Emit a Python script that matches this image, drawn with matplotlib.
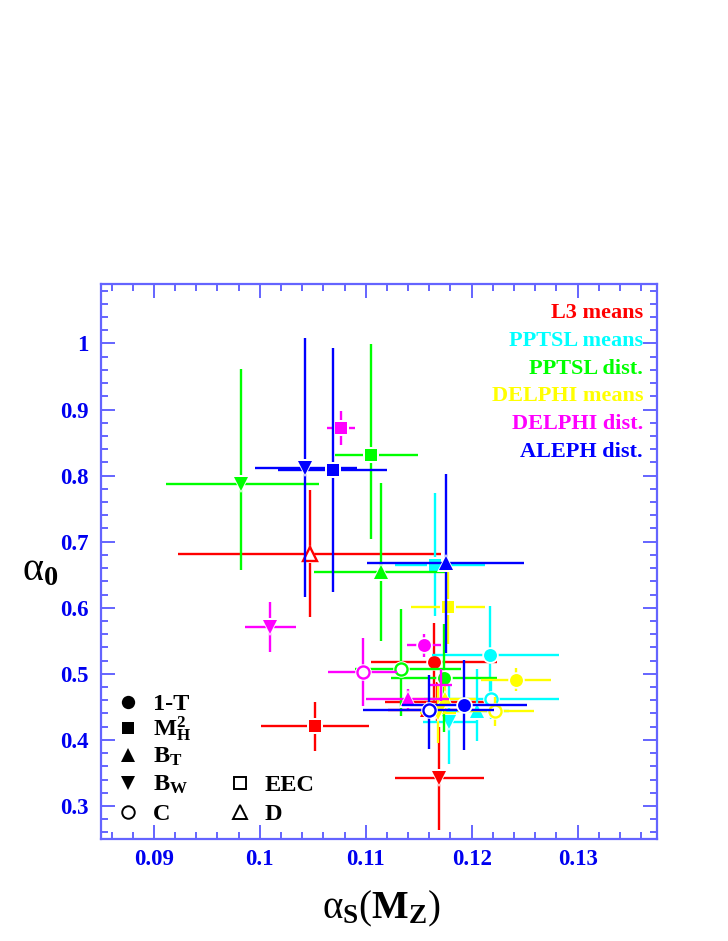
import matplotlib
matplotlib.use('Agg')
import matplotlib.pyplot as plt
from matplotlib.ticker import MultipleLocator, FuncFormatter
import numpy as np

plt.rcParams['font.family'] = ['Liberation Serif', 'DejaVu Serif']
plt.rcParams['mathtext.fontset'] = 'custom'
plt.rcParams['mathtext.rm'] = 'Liberation Serif'
plt.rcParams['mathtext.it'] = 'Liberation Serif'
plt.rcParams['mathtext.bf'] = 'Liberation Serif:bold'

# ---------------- data (alpha_s, alpha_0 with asymmetric errors) ----------------
# L3 means (red)
l3_var = ['1-T', 'MH2', 'BT', '', 'BW', 'D']
l3_x   = [0.11642, 0.10519, 0.1158, 0.1167, 0.11695, 0.10469]
l3_y   = [0.5181, 0.4209, 0.4450, 0.4571, 0.3418, 0.6817]
l3_xlo = [0.0059, 0.0051, 0.0037, 0.0049, 0.0042, 0.0124]
l3_xhi = [0.0060, 0.0051, 0.0044, 0.0049, 0.0042, 0.0124]
l3_ylo = [0.059, 0.037, 0.012, 0.030, 0.078, 0.096]
l3_yhi = [0.059, 0.037, 0.012, 0.030, 0.078, 0.096]

# PPTSL means (cyan)
pm_var = ['1-T', 'MH2', 'BT', 'BW', 'C']
pm_x   = [0.12176, 0.11655, 0.12051, 0.11790, 0.12186]
pm_y   = [0.5280, 0.6640, 0.4430, 0.4269, 0.4622]
pm_xlo = [0.0055, 0.0038, 0.0030, 0.0025, 0.0064]
pm_xhi = [0.0065, 0.0047, 0.0030, 0.0025, 0.0064]
pm_ylo = [0.074, 0.077, 0.044, 0.064, 0.030]
pm_yhi = [0.074, 0.109, 0.065, 0.064, 0.030]

# PPTSL dist. (green)
pd_var = ['1-T', 'MH2', 'BT', 'BW', 'C']
pd_x   = [0.11736, 0.11054, 0.11145, 0.09825, 0.11337]
pd_y   = [0.4940, 0.8308, 0.6540, 0.7870, 0.5076]
pd_xlo = [0.0050, 0.0034, 0.0063, 0.0071, 0.0044]
pd_xhi = [0.0050, 0.0044, 0.0060, 0.0073, 0.0056]
pd_ylo = [0.082, 0.126, 0.104, 0.130, 0.072]
pd_yhi = [0.082, 0.169, 0.135, 0.174, 0.090]

# DELPHI means (yellow)
dm_var = ['1-T', 'MH2', 'BW', 'BT', 'C']
dm_x   = [0.12415, 0.11774, 0.1168, 0.11745, 0.12224]
dm_y   = [0.4914, 0.6012, 0.4400, 0.4612, 0.4435]
dm_xlo = [0.0033, 0.0035, 0.0017, 0.0030, 0.0036]
dm_xhi = [0.0033, 0.0035, 0.0017, 0.0030, 0.0036]
dm_ylo = [0.018, 0.056, 0.045, 0.020, 0.022]
dm_yhi = [0.018, 0.056, 0.045, 0.020, 0.022]

# DELPHI dist. (magenta)
dd_var = ['1-T', 'MH2', 'BT', 'BW', 'C', '']
dd_x   = [0.11547, 0.10768, 0.11396, 0.10098, 0.10975, 0.1171]
dd_y   = [0.5432, 0.8720, 0.4622, 0.5710, 0.5030, 0.4830]
dd_xlo = [0.0016, 0.0013, 0.0039, 0.0024, 0.0033, 0.0010]
dd_xhi = [0.0016, 0.0013, 0.0039, 0.0024, 0.0032, 0.0010]
dd_ylo = [0.017, 0.026, 0.015, 0.038, 0.051, 0.024]
dd_yhi = [0.017, 0.026, 0.015, 0.038, 0.051, 0.024]

# ALEPH dist. (blue)
al_var = ['1-T', 'MH2', 'BT', 'BW', 'C']
al_x   = [0.11928, 0.10686, 0.11755, 0.10430, 0.11598]
al_y   = [0.4526, 0.8086, 0.6670, 0.8120, 0.4446]
al_xlo = [0.0059, 0.0051, 0.0074, 0.0048, 0.0062]
al_xhi = [0.0059, 0.0051, 0.0074, 0.0049, 0.0061]
al_ylo = [0.068, 0.185, 0.136, 0.196, 0.058]
al_yhi = [0.068, 0.185, 0.136, 0.196, 0.054]

group_names = ['L3 means', 'PPTSL means', 'PPTSL dist.', 'DELPHI means', 'DELPHI dist.', 'ALEPH dist.']
group_colors = ['#ff0000', '#00ffff', '#00ff00', '#ffff00', '#ff00ff', '#0000ff']
groups = [
    (l3_x, l3_y, l3_xlo, l3_xhi, l3_ylo, l3_yhi, l3_var),
    (pm_x, pm_y, pm_xlo, pm_xhi, pm_ylo, pm_yhi, pm_var),
    (pd_x, pd_y, pd_xlo, pd_xhi, pd_ylo, pd_yhi, pd_var),
    (dm_x, dm_y, dm_xlo, dm_xhi, dm_ylo, dm_yhi, dm_var),
    (dd_x, dd_y, dd_xlo, dd_xhi, dd_ylo, dd_yhi, dd_var),
    (al_x, al_y, al_xlo, al_xhi, al_ylo, al_yhi, al_var),
]

legend_vars = ['1-T', 'MH2', 'BT', 'BW', 'C', 'EEC', 'D']
legend_labels = ['1-T', r'$\mathbf{M}_{\mathbf{H}}^{\mathbf{2}}$', r'$\mathbf{B}_{\mathbf{T}}$',
                 r'$\mathbf{B}_{\mathbf{W}}$', 'C', 'EEC', 'D']

x_ticks = [0.09, 0.10, 0.11, 0.12, 0.13]
y_ticks = [0.3, 0.4, 0.5, 0.6, 0.7, 0.8, 0.9, 1.0]

# ---------------- styles ----------------
MARK = {'1-T': ('o', True), 'MH2': ('s', True), 'BT': ('^', True), 'BW': ('v', True),
        'C': ('o', False), 'D': ('^', False), 'EEC': ('s', False)}
SIZE = {'o': 9.3, 's': 8.8, '^': 10.0, 'v': 10.0}
AXC = '#6464ff'
LABC = '#0000f0'

fig = plt.figure(figsize=(7.28, 9.41), dpi=100)
ax = fig.add_axes([101/728, 1-839/941, 556/728, 555/941])
ax.set_xlim(0.085, 0.1375)
ax.set_ylim(0.25, 1.09)

for gi, ((x, y, xlo, xhi, ylo, yhi, var), col) in enumerate(zip(groups, group_colors)):
    z = 2 + gi
    ax.errorbar(x, y, xerr=[xlo, xhi], yerr=[ylo, yhi], fmt='none', ecolor=col,
                elinewidth=1.7, capsize=0, zorder=z)
    for xi, yi, v in zip(x, y, var):
        if v not in MARK:
            continue
        m, filled = MARK[v]
        ms = SIZE[m]
        ax.plot([xi], [yi], marker=m, ms=ms + 2.6, color='white', ls='none', mew=0, zorder=z + 0.3)
        if filled:
            ax.plot([xi], [yi], marker=m, ms=ms, color=col, ls='none', mew=0, zorder=z + 0.6)
        else:
            ax.plot([xi], [yi], marker=m, ms=ms - 0.6, mfc='none', mec=col, mew=1.7, ls='none', zorder=z + 0.6)

# group labels (upper right)
for i, (name, col) in enumerate(zip(group_names, group_colors)):
    ax.text(0.975, 0.948 - 0.0502 * i, name, color=col, transform=ax.transAxes,
            ha='right', va='center', fontsize=16, fontweight='bold')

# marker legend (lower left)
leg_pos = [(0.049, 0.2463), (0.049, 0.2005), (0.049, 0.152), (0.049, 0.1014), (0.049, 0.049),
           (0.250, 0.1014), (0.250, 0.049)]
for v, lab, (px, py) in zip(legend_vars, legend_labels, leg_pos):
    m, filled = MARK[v]
    ms = SIZE[m] + 0.3
    if filled:
        ax.plot([px], [py], marker=m, ms=ms, color='black', ls='none', mew=0,
                transform=ax.transAxes, zorder=20)
    else:
        ax.plot([px], [py], marker=m, ms=ms - 0.6, mfc='none', mec='black', mew=1.4, ls='none',
                transform=ax.transAxes, zorder=20)
    ax.text(px + 0.0445, py - 0.0145, lab, transform=ax.transAxes, ha='left', va='baseline',
            fontsize=17.5, fontweight='bold', color='black', zorder=20)

# axes styling
ax.set_xticks(x_ticks)
ax.set_yticks(y_ticks)
ax.xaxis.set_minor_locator(MultipleLocator(0.002))
ax.yaxis.set_minor_locator(MultipleLocator(0.02))
fmt = FuncFormatter(lambda v, p: f'{v:g}')
ax.xaxis.set_major_formatter(fmt)
ax.yaxis.set_major_formatter(fmt)
ax.tick_params(which='both', direction='in', top=True, right=True, color=AXC,
               labelcolor=LABC, labelsize=16.5)
ax.tick_params(which='major', length=10, width=1.4)
ax.tick_params(which='minor', length=5, width=1.4)
ax.tick_params(axis='x', pad=7)
ax.tick_params(axis='y', pad=9)
for lab in ax.get_xticklabels() + ax.get_yticklabels():
    lab.set_fontweight('bold')
for sp in ax.spines.values():
    sp.set_color(AXC)
    sp.set_linewidth(1.6)

fig.text(381/728, 1 - 918/941, r'$\alpha_{\mathbf{S}}(\mathbf{M}_{\mathbf{Z}})$', ha='center',
         va='baseline', fontsize=28, color='black')
fig.text(22/728, 1 - 580/941, r'$\alpha_{\mathbf{0}}$', ha='left', va='baseline',
         fontsize=29, color='black')

fig.savefig('out.png', dpi=100)
